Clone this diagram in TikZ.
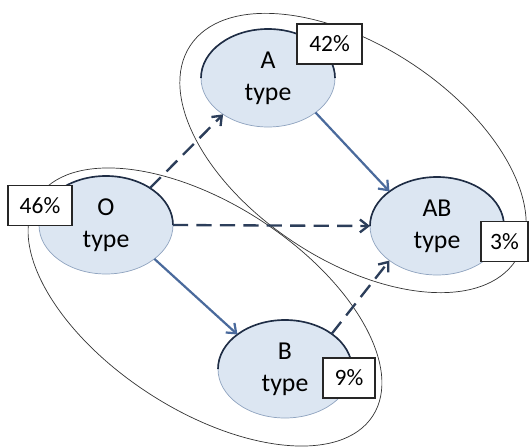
\documentclass[tikz,border=0pt]{standalone}
\usepackage{fontspec}
\newfontfamily\calfont{Carlito}
\usetikzlibrary{shapes.geometric,% ellipse nodes
arrows.meta}
\definecolor{cellfill}{HTML}{DCE6F2}
\definecolor{celledge}{HTML}{8FA3BF}
\definecolor{celltop}{HTML}{1F2D45}
\definecolor{solidblue}{HTML}{4A6A9C}
\definecolor{dashblue}{HTML}{2C3E5A}
\tikzset{every node/.style={font=\calfont}}

\begin{document}
\begin{tikzpicture}[
  x=0.03cm, y=-0.03cm,
  cell/.style={shape=ellipse, fill=cellfill, draw=celledge, line width=0.6pt,
    minimum width=4.02cm, minimum height=2.94cm, inner sep=0pt, outer sep=0pt,
    align=center, font=\calfont\fontsize{22}{27}\selectfont},
  share/.style={rectangle, fill=white, draw=black!85, line width=0.9pt,
    inner sep=0pt, minimum height=1.2cm, font=\calfont\fontsize{20}{24}\selectfont},
  lasso/.style={shape=ellipse, draw=black!80, line width=0.6pt, inner sep=0pt},
  rim/.style={celltop, line width=1.4pt},
  sure/.style={solidblue, line width=1.9pt, -{Straight Barb[length=7pt,width=11pt]}},
  maybe/.style={dashblue, line width=2pt, dash pattern=on 13pt off 7pt,
    -{Straight Barb[length=7pt,width=11pt]}}
% the groups are ellipses turned with rotate
]
\useasboundingbox (0,0) rectangle (529,448);

\node[lasso, rotate=-33.4, minimum width=11.7cm, minimum height=6.42cm] (Lup) at (353,153) {};
\node[lasso, rotate=-33, minimum width=12cm, minimum height=6.18cm] (Llow) at (205,307) {};

\node[cell] (O) at (106,225) {O\\type};
\node[cell] (A) at (268,78) {A\\type};
\node[cell] (AB) at (437,226) {AB\\type};
\node[cell] (B) at (285,369) {B\\type};

\foreach \c in {O,A,AB,B}
  \draw[rim] (\c.west) arc[start angle=180, end angle=0, x radius=2.01cm, y radius=1.47cm];

\node[share, minimum width=1.95cm] (pA) at (329.5,44) {42\%};
\node[share, minimum width=1.92cm] (pO) at (40,205.5) {46\%};
\node[share, minimum width=1.41cm] (pAB) at (504.5,241.5) {3\%};
\node[share, minimum width=1.56cm] (pB) at (349,378) {9\%};

\draw[maybe] (O.40) -- (A.219);
\draw[maybe] (O.east) -- (AB.west);
\draw[maybe] (B.37) -- (AB.216);
\draw[sure] (A.324) -- (AB.144);
\draw[sure] (O.325) -- (B.144);
\end{tikzpicture}
\end{document}
